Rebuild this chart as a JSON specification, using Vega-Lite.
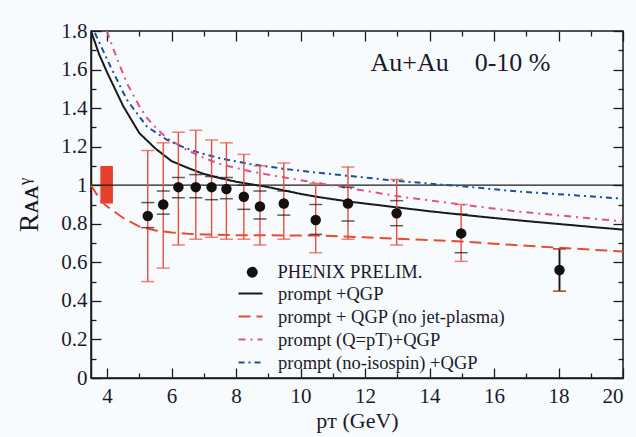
{
  "$schema": "https://vega.github.io/schema/vega-lite/v6.json",
  "width": 532,
  "height": 347,
  "autosize": {"type": "none"},
  "padding": {"left": 91, "top": 31, "right": 13, "bottom": 59},
  "background": "#f8fbfd",
  "config": {
    "view": {"stroke": "#1a1a1a", "strokeWidth": 1.5},
    "font": "Liberation Serif",
    "axis": {
      "domainColor": "#1a1a1a", "domainWidth": 1.5,
      "tickColor": "#1a1a1a", "tickWidth": 1.3,
      "labelFont": "Liberation Serif", "labelFontSize": 21, "labelColor": "#1a1a2a",
      "titleFont": "Liberation Serif", "titleFontWeight": "normal", "titleColor": "#1a1a2a",
      "grid": false
    }
  },
  "datasets": {
    "pts": [
      {"pT": 5.26, "R": 0.84, "lo": 0.50, "hi": 1.18, "sLo": 0.78, "sHi": 0.91, "src": "PHENIX PRELIM."},
      {"pT": 5.74, "R": 0.90, "lo": 0.57, "hi": 1.22, "sLo": 0.85, "sHi": 0.97, "src": "PHENIX PRELIM."},
      {"pT": 6.21, "R": 0.99, "lo": 0.69, "hi": 1.275, "sLo": 0.935, "sHi": 1.04, "src": "PHENIX PRELIM."},
      {"pT": 6.75, "R": 0.99, "lo": 0.72, "hi": 1.285, "sLo": 0.935, "sHi": 1.055, "src": "PHENIX PRELIM."},
      {"pT": 7.24, "R": 0.99, "lo": 0.73, "hi": 1.235, "sLo": 0.925, "sHi": 1.045, "src": "PHENIX PRELIM."},
      {"pT": 7.70, "R": 0.98, "lo": 0.72, "hi": 1.22, "sLo": 0.93, "sHi": 1.04, "src": "PHENIX PRELIM."},
      {"pT": 8.24, "R": 0.94, "lo": 0.72, "hi": 1.16, "sLo": 0.875, "sHi": 1.0, "src": "PHENIX PRELIM."},
      {"pT": 8.74, "R": 0.89, "lo": 0.69, "hi": 1.10, "sLo": 0.825, "sHi": 0.97, "src": "PHENIX PRELIM."},
      {"pT": 9.48, "R": 0.905, "lo": 0.72, "hi": 1.115, "sLo": 0.845, "sHi": 0.97, "src": "PHENIX PRELIM."},
      {"pT": 10.47, "R": 0.82, "lo": 0.65, "hi": 1.01, "sLo": 0.745, "sHi": 0.90, "src": "PHENIX PRELIM."},
      {"pT": 11.47, "R": 0.905, "lo": 0.72, "hi": 1.095, "sLo": 0.815, "sHi": 0.99, "src": "PHENIX PRELIM."},
      {"pT": 12.98, "R": 0.855, "lo": 0.69, "hi": 1.03, "sLo": 0.79, "sHi": 0.92, "src": "PHENIX PRELIM."},
      {"pT": 14.98, "R": 0.75, "lo": 0.605, "hi": 0.90, "sLo": 0.65, "sHi": 0.85, "src": "PHENIX PRELIM."},
      {"pT": 18.03, "R": 0.56, "lo": 0.45, "hi": 0.67, "sLo": 0.45, "sHi": 0.67, "src": "PHENIX PRELIM."}
    ],
    "curves": [
      {"model": "prompt +QGP", "pT": 3.5, "R": 1.80},
      {"model": "prompt +QGP", "pT": 3.75, "R": 1.68},
      {"model": "prompt +QGP", "pT": 4.0, "R": 1.585},
      {"model": "prompt +QGP", "pT": 4.5, "R": 1.41},
      {"model": "prompt +QGP", "pT": 5.0, "R": 1.27},
      {"model": "prompt +QGP", "pT": 5.5, "R": 1.19},
      {"model": "prompt +QGP", "pT": 6.0, "R": 1.125},
      {"model": "prompt +QGP", "pT": 6.5, "R": 1.09},
      {"model": "prompt +QGP", "pT": 7.0, "R": 1.058},
      {"model": "prompt +QGP", "pT": 7.5, "R": 1.037},
      {"model": "prompt +QGP", "pT": 8.0, "R": 1.018},
      {"model": "prompt +QGP", "pT": 9.0, "R": 0.99},
      {"model": "prompt +QGP", "pT": 10.0, "R": 0.955},
      {"model": "prompt +QGP", "pT": 10.5, "R": 0.94},
      {"model": "prompt +QGP", "pT": 11.5, "R": 0.915},
      {"model": "prompt +QGP", "pT": 12.0, "R": 0.905},
      {"model": "prompt +QGP", "pT": 13.0, "R": 0.885},
      {"model": "prompt +QGP", "pT": 14.0, "R": 0.865},
      {"model": "prompt +QGP", "pT": 15.0, "R": 0.847},
      {"model": "prompt +QGP", "pT": 16.0, "R": 0.83},
      {"model": "prompt +QGP", "pT": 17.0, "R": 0.814},
      {"model": "prompt +QGP", "pT": 18.0, "R": 0.799},
      {"model": "prompt +QGP", "pT": 19.0, "R": 0.784},
      {"model": "prompt +QGP", "pT": 20.0, "R": 0.77},
      {"model": "prompt + QGP (no jet-plasma)", "pT": 3.5, "R": 1.0},
      {"model": "prompt + QGP (no jet-plasma)", "pT": 3.8, "R": 0.92},
      {"model": "prompt + QGP (no jet-plasma)", "pT": 4.0, "R": 0.89},
      {"model": "prompt + QGP (no jet-plasma)", "pT": 4.5, "R": 0.83},
      {"model": "prompt + QGP (no jet-plasma)", "pT": 5.0, "R": 0.785},
      {"model": "prompt + QGP (no jet-plasma)", "pT": 5.5, "R": 0.765},
      {"model": "prompt + QGP (no jet-plasma)", "pT": 6.0, "R": 0.755},
      {"model": "prompt + QGP (no jet-plasma)", "pT": 6.5, "R": 0.748},
      {"model": "prompt + QGP (no jet-plasma)", "pT": 7.0, "R": 0.745},
      {"model": "prompt + QGP (no jet-plasma)", "pT": 8.0, "R": 0.741},
      {"model": "prompt + QGP (no jet-plasma)", "pT": 9.0, "R": 0.74},
      {"model": "prompt + QGP (no jet-plasma)", "pT": 10.5, "R": 0.739},
      {"model": "prompt + QGP (no jet-plasma)", "pT": 12.0, "R": 0.73},
      {"model": "prompt + QGP (no jet-plasma)", "pT": 13.0, "R": 0.722},
      {"model": "prompt + QGP (no jet-plasma)", "pT": 14.0, "R": 0.715},
      {"model": "prompt + QGP (no jet-plasma)", "pT": 15.0, "R": 0.708},
      {"model": "prompt + QGP (no jet-plasma)", "pT": 16.0, "R": 0.697},
      {"model": "prompt + QGP (no jet-plasma)", "pT": 17.0, "R": 0.686},
      {"model": "prompt + QGP (no jet-plasma)", "pT": 18.0, "R": 0.676},
      {"model": "prompt + QGP (no jet-plasma)", "pT": 19.0, "R": 0.666},
      {"model": "prompt + QGP (no jet-plasma)", "pT": 20.0, "R": 0.656},
      {"model": "prompt (Q=pT)+QGP", "pT": 3.99, "R": 1.80},
      {"model": "prompt (Q=pT)+QGP", "pT": 4.3, "R": 1.66},
      {"model": "prompt (Q=pT)+QGP", "pT": 4.61, "R": 1.53},
      {"model": "prompt (Q=pT)+QGP", "pT": 5.0, "R": 1.41},
      {"model": "prompt (Q=pT)+QGP", "pT": 5.23, "R": 1.35},
      {"model": "prompt (Q=pT)+QGP", "pT": 5.5, "R": 1.30},
      {"model": "prompt (Q=pT)+QGP", "pT": 5.85, "R": 1.245},
      {"model": "prompt (Q=pT)+QGP", "pT": 6.4, "R": 1.19},
      {"model": "prompt (Q=pT)+QGP", "pT": 6.88, "R": 1.15},
      {"model": "prompt (Q=pT)+QGP", "pT": 7.5, "R": 1.11},
      {"model": "prompt (Q=pT)+QGP", "pT": 8.43, "R": 1.072},
      {"model": "prompt (Q=pT)+QGP", "pT": 9.5, "R": 1.04},
      {"model": "prompt (Q=pT)+QGP", "pT": 10.4, "R": 1.015},
      {"model": "prompt (Q=pT)+QGP", "pT": 11.5, "R": 0.985},
      {"model": "prompt (Q=pT)+QGP", "pT": 13.2, "R": 0.938},
      {"model": "prompt (Q=pT)+QGP", "pT": 15.0, "R": 0.90},
      {"model": "prompt (Q=pT)+QGP", "pT": 16.7, "R": 0.864},
      {"model": "prompt (Q=pT)+QGP", "pT": 18.5, "R": 0.836},
      {"model": "prompt (Q=pT)+QGP", "pT": 20.0, "R": 0.812},
      {"model": "prompt (no-isospin) +QGP", "pT": 3.62, "R": 1.79},
      {"model": "prompt (no-isospin) +QGP", "pT": 4.1, "R": 1.617},
      {"model": "prompt (no-isospin) +QGP", "pT": 4.61, "R": 1.444},
      {"model": "prompt (no-isospin) +QGP", "pT": 5.23, "R": 1.305},
      {"model": "prompt (no-isospin) +QGP", "pT": 5.85, "R": 1.236},
      {"model": "prompt (no-isospin) +QGP", "pT": 6.4, "R": 1.195},
      {"model": "prompt (no-isospin) +QGP", "pT": 6.88, "R": 1.167},
      {"model": "prompt (no-isospin) +QGP", "pT": 7.5, "R": 1.14},
      {"model": "prompt (no-isospin) +QGP", "pT": 8.43, "R": 1.11},
      {"model": "prompt (no-isospin) +QGP", "pT": 9.5, "R": 1.085},
      {"model": "prompt (no-isospin) +QGP", "pT": 10.4, "R": 1.067},
      {"model": "prompt (no-isospin) +QGP", "pT": 12.0, "R": 1.04},
      {"model": "prompt (no-isospin) +QGP", "pT": 13.0, "R": 1.022},
      {"model": "prompt (no-isospin) +QGP", "pT": 15.0, "R": 0.995},
      {"model": "prompt (no-isospin) +QGP", "pT": 16.7, "R": 0.968},
      {"model": "prompt (no-isospin) +QGP", "pT": 18.5, "R": 0.948},
      {"model": "prompt (no-isospin) +QGP", "pT": 20.0, "R": 0.93}
    ],
    "box": [{"x": 3.79, "x2": 4.18, "y": 0.905, "y2": 1.1}],
    "ref": [{"y": 1}],
    "label": [{"x": 14.96, "y": 1.59, "text": "Au+Au\u00a0\u00a0\u00a0\u00a00-10 %"}]
  },
  "resolve": {"axis": {"x": "independent", "y": "independent"}},
  "layer": [
    {
      "data": {"name": "box"},
      "mark": {"type": "rect", "color": "#e5402a"},
      "encoding": {
        "x": {"field": "x", "type": "quantitative", "scale": {"domain": [3.5, 20], "nice": false, "zero": false}, "axis": null},
        "x2": {"field": "x2"},
        "y": {"field": "y", "type": "quantitative", "scale": {"domain": [0, 1.8], "nice": false}, "axis": null},
        "y2": {"field": "y2"}
      }
    },
    {
      "data": {"name": "ref"},
      "mark": {"type": "rule", "color": "#1a1a1a", "strokeWidth": 1.3},
      "encoding": {
        "y": {"field": "y", "type": "quantitative", "scale": {"domain": [0, 1.8], "nice": false}, "axis": null}
      }
    },
    {
      "data": {"name": "curves"},
      "mark": {"type": "line", "strokeWidth": 2, "clip": true},
      "encoding": {
        "x": {"field": "pT", "type": "quantitative", "scale": {"domain": [3.5, 20], "nice": false, "zero": false},
          "axis": {"orient": "top", "values": [4,5,6,7,8,9,10,11,12,13,14,15,16,17,18,19,20], "labels": false, "title": null, "domain": false,
            "tickSize": {"condition": {"test": "datum.value % 2 === 0", "value": -10}, "value": -5}}},
        "y": {"field": "R", "type": "quantitative", "scale": {"domain": [0, 1.8], "nice": false},
          "axis": {"orient": "right", "values": [0,0.1,0.2,0.3,0.4,0.5,0.6,0.7,0.8,0.9,1.0,1.1,1.2,1.3,1.4,1.5,1.6,1.7,1.8], "labels": false, "title": null, "domain": false,
            "tickSize": {"condition": {"test": "round(datum.value*10) % 2 === 0", "value": -10}, "value": -5}}},
        "color": {"field": "model", "type": "nominal",
          "scale": {"domain": ["prompt +QGP", "prompt + QGP (no jet-plasma)", "prompt (Q=pT)+QGP", "prompt (no-isospin) +QGP"], "range": ["#1a1a1a", "#ea4a33", "#e0509a", "#1f4e9e"]},
          "legend": {"orient": "none", "legendX": 146, "legendY": 249, "title": null, "symbolType": "stroke", "symbolSize": 576, "symbolStrokeWidth": 2.2, "labelFont": "Liberation Serif", "labelFontSize": 18.5, "labelColor": "#1a1a2a", "labelOffset": 14, "labelLimit": 400, "rowPadding": -3, "padding": 0}},
        "strokeDash": {"field": "model", "type": "nominal",
          "scale": {"domain": ["prompt +QGP", "prompt + QGP (no jet-plasma)", "prompt (Q=pT)+QGP", "prompt (no-isospin) +QGP"], "range": [[1, 0], [12, 6], [7, 5, 2, 5], [6, 4, 2, 4]]},
          "legend": {"orient": "none", "legendX": 146, "legendY": 249, "title": null, "symbolType": "stroke", "symbolSize": 576, "symbolStrokeWidth": 2.2, "labelFont": "Liberation Serif", "labelFontSize": 18.5, "labelColor": "#1a1a2a", "labelOffset": 14, "labelLimit": 400, "rowPadding": -3, "padding": 0}}
      }
    },
    {
      "data": {"name": "pts"},
      "mark": {"type": "rule", "color": "#eb4d3c", "strokeWidth": 1.4},
      "encoding": {
        "x": {"field": "pT", "type": "quantitative", "scale": {"domain": [3.5, 20], "nice": false, "zero": false}, "axis": null},
        "y": {"field": "lo", "type": "quantitative", "scale": {"domain": [0, 1.8], "nice": false}, "axis": null},
        "y2": {"field": "hi"}
      }
    },
    {
      "data": {"name": "pts"},
      "transform": [{"filter": "datum.pT > 17"}],
      "mark": {"type": "rule", "color": "#1a1a1a", "strokeWidth": 1.8},
      "encoding": {
        "x": {"field": "pT", "type": "quantitative", "scale": {"domain": [3.5, 20], "nice": false, "zero": false}, "axis": null},
        "y": {"field": "sLo", "type": "quantitative", "scale": {"domain": [0, 1.8], "nice": false}, "axis": null},
        "y2": {"field": "sHi"}
      }
    },
    {
      "data": {"name": "pts"},
      "mark": {"type": "tick", "orient": "horizontal", "color": "#1a1a1a", "size": 13, "thickness": 1.5},
      "encoding": {
        "x": {"field": "pT", "type": "quantitative", "scale": {"domain": [3.5, 20], "nice": false, "zero": false}, "axis": null},
        "y": {"field": "sLo", "type": "quantitative", "scale": {"domain": [0, 1.8], "nice": false}, "axis": null}
      }
    },
    {
      "data": {"name": "pts"},
      "mark": {"type": "tick", "orient": "horizontal", "color": "#1a1a1a", "size": 13, "thickness": 1.5},
      "encoding": {
        "x": {"field": "pT", "type": "quantitative", "scale": {"domain": [3.5, 20], "nice": false, "zero": false}, "axis": null},
        "y": {"field": "sHi", "type": "quantitative", "scale": {"domain": [0, 1.8], "nice": false}, "axis": null}
      }
    },
    {
      "data": {"name": "pts"},
      "mark": {"type": "tick", "orient": "horizontal", "color": "#eb4d3c", "size": 13, "thickness": 1.5},
      "encoding": {
        "x": {"field": "pT", "type": "quantitative", "scale": {"domain": [3.5, 20], "nice": false, "zero": false}, "axis": null},
        "y": {"field": "lo", "type": "quantitative", "scale": {"domain": [0, 1.8], "nice": false}, "axis": null}
      }
    },
    {
      "data": {"name": "pts"},
      "mark": {"type": "tick", "orient": "horizontal", "color": "#eb4d3c", "size": 13, "thickness": 1.5},
      "encoding": {
        "x": {"field": "pT", "type": "quantitative", "scale": {"domain": [3.5, 20], "nice": false, "zero": false}, "axis": null},
        "y": {"field": "hi", "type": "quantitative", "scale": {"domain": [0, 1.8], "nice": false}, "axis": null}
      }
    },
    {
      "data": {"name": "pts"},
      "mark": {"type": "point", "filled": true, "color": "#111111", "size": 110, "opacity": 1},
      "encoding": {
        "x": {"field": "pT", "type": "quantitative", "scale": {"domain": [3.5, 20], "nice": false, "zero": false},
          "axis": {"orient": "bottom", "values": [4,5,6,7,8,9,10,11,12,13,14,15,16,17,18,19,20],
            "labelExpr": "datum.value % 2 === 0 ? datum.label : ''",
            "tickSize": {"condition": {"test": "datum.value % 2 === 0", "value": -10}, "value": -5},
            "labelPadding": 17, "title": "p\u1d1b (GeV)", "titleFontSize": 22, "titlePadding": 4}},
        "y": {"field": "R", "type": "quantitative", "scale": {"domain": [0, 1.8], "nice": false},
          "axis": {"orient": "left", "values": [0,0.1,0.2,0.3,0.4,0.5,0.6,0.7,0.8,0.9,1.0,1.1,1.2,1.3,1.4,1.5,1.6,1.7,1.8],
            "labelExpr": "round(datum.value*10) % 2 === 0 ? format(datum.value, '~g') : ''",
            "tickSize": {"condition": {"test": "round(datum.value*10) % 2 === 0", "value": -10}, "value": -5},
            "labelPadding": 14, "title": "R\u1d00\u1d00\u1d5e", "titleFontSize": 28, "titlePadding": 17}},
        "shape": {"field": "src", "type": "nominal", "scale": {"range": ["circle"]},
          "legend": {"orient": "none", "legendX": 152, "legendY": 232, "title": null, "symbolSize": 120, "symbolFillColor": "#111111", "symbolStrokeColor": "#111111", "labelFont": "Liberation Serif", "labelFontSize": 18.5, "labelColor": "#1a1a2a", "labelOffset": 16, "padding": 0}}
      }
    },
    {
      "data": {"name": "label"},
      "mark": {"type": "text", "font": "Liberation Serif", "fontSize": 26, "color": "#1a1a2a", "align": "center", "baseline": "alphabetic"},
      "encoding": {
        "x": {"field": "x", "type": "quantitative", "scale": {"domain": [3.5, 20], "nice": false, "zero": false}, "axis": null},
        "y": {"field": "y", "type": "quantitative", "scale": {"domain": [0, 1.8], "nice": false}, "axis": null},
        "text": {"field": "text"}
      }
    }
  ]
}
